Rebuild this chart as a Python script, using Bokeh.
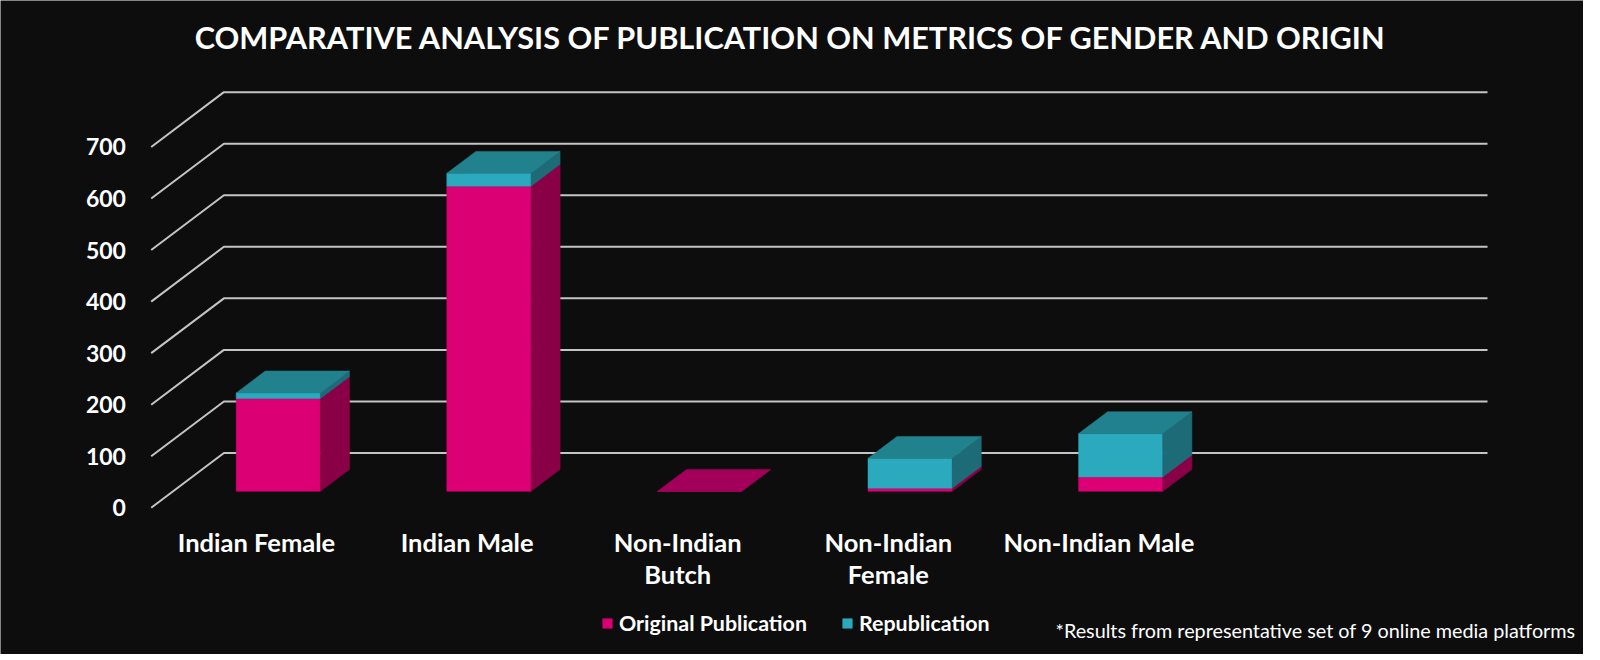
from bokeh.plotting import figure
from bokeh.models import Range1d, Legend, LegendItem, ColumnDataSource
from bokeh.embed import file_html
from bokeh.resources import INLINE
from bokeh.core.properties import value

# ---------------- data ----------------
categories = ["Indian Female", "Indian Male", "Non-Indian\nButch", "Non-Indian\nFemale", "Non-Indian Male"]
original = [180, 592, 0, 6, 28]
republication = [11, 25, 0, 58, 84]
series_names = ["Original Publication", "Republication"]
y_ticks = [0, 100, 200, 300, 400, 500, 600, 700]
y_tick_labels = [str(t) for t in y_ticks]
title_text = "COMPARATIVE ANALYSIS OF PUBLICATION ON METRICS OF GENDER AND ORIGIN"
footnote_text = "*Results from representative set of 9 online media platforms"

# ---------------- style / layout ----------------
BG = "#0d0d0d"
GRID = "#c4c4c4"
FRONT = ["#db0073", "#2ba9bd"]
SIDE = ["#8a0047", "#1c6b76"]
TOP = ["#a2005a", "#21828e"]
FONT = "Lato"

N_SLOTS = 6          # category slots on the floor (last one empty)
DX = 0.3452          # full depth offset in x (slot units)
DY = 106.3           # full depth offset in y (value units)
Z0, Z1 = 0.3, 0.7    # bar depth span (fraction of full depth)
BAR_START, BAR_W = 0.3, 0.4

p = figure(width=1583, height=654,
           x_range=Range1d(-0.7156, 6.801), y_range=Range1d(-284.6, 984.1),
           output_backend="svg", toolbar_location=None,
           x_axis_location=None, y_axis_location=None,
           min_border=0, background_fill_color=BG, border_fill_color=BG,
           outline_line_color=None)
p.grid.visible = False

# ---------------- walls / gridlines ----------------
gx, gy = [], []
for t in y_ticks:
    gx.append([0, DX, N_SLOTS + DX])
    gy.append([t, t + DY, t + DY])
p.multi_line(gx, gy, line_color=GRID, line_width=2)

# ---------------- 3D stacked bars ----------------
xs, ys, fills = [], [], []
legend_idx = {}
ddx, ddy = (Z1 - Z0) * DX, (Z1 - Z0) * DY
for i, cat in enumerate(categories):
    base = 0
    for s, vals in enumerate([original, republication]):
        v = vals[i]
        if v == 0 and s > 0:
            continue
        left = i + BAR_START + Z0 * DX
        right = left + BAR_W
        b = base + Z0 * DY
        t = base + v + Z0 * DY
        if s not in legend_idx:
            legend_idx[s] = len(xs)
        # front
        xs.append([left, right, right, left]); ys.append([b, b, t, t]); fills.append(FRONT[s])
        # side
        xs.append([right, right, right + ddx, right + ddx]); ys.append([b, t, t + ddy, b + ddy]); fills.append(SIDE[s])
        # top
        xs.append([left, right, right + ddx, left + ddx]); ys.append([t, t, t + ddy, t + ddy]); fills.append(TOP[s])
        base += v

src = ColumnDataSource(dict(xs=xs, ys=ys, fill=fills))
r = p.patches("xs", "ys", source=src, fill_color="fill", line_color="fill", line_width=0.5)

# ---------------- axis labels ----------------
p.text(x=[-0.12] * len(y_ticks), y=y_ticks, text=y_tick_labels,
       text_font=value(FONT), text_font_style="bold", text_font_size="23px",
       text_color="white", text_align="right", text_baseline="middle")

p.text(x=[i + 0.5 for i in range(len(categories))], y=[-38.0] * len(categories), text=categories,
       text_font=value(FONT), text_font_style="bold", text_font_size="25.5px",
       text_color="white", text_align="center", text_baseline="top", text_line_height=1.07)

# ---------------- title & footnote ----------------
p.text(x=[3.04], y=[911.4], text=[title_text],
       text_font=value(FONT), text_font_style="bold", text_font_size="30.7px",
       text_color="white", text_align="center", text_baseline="middle")

p.text(x=[6.763], y=[-238.0], text=[footnote_text],
       text_font=value(FONT), text_font_size="19.8px",
       text_color="white", text_align="right", text_baseline="middle")

# ---------------- legend ----------------
legend = Legend(items=[LegendItem(label=series_names[0], renderers=[r], index=legend_idx[0]),
                       LegendItem(label=series_names[1], renderers=[r], index=legend_idx[1])],
                orientation="horizontal", location=(601, 18),
                glyph_width=12, glyph_height=12, label_standoff=6, spacing=34,
                label_text_font=FONT, label_text_font_style="bold", label_text_font_size="21.4px",
                label_text_color="white", background_fill_alpha=0, border_line_alpha=0,
                padding=0, margin=0)
p.add_layout(legend)

open("out.html", "w").write(file_html(p, INLINE))
